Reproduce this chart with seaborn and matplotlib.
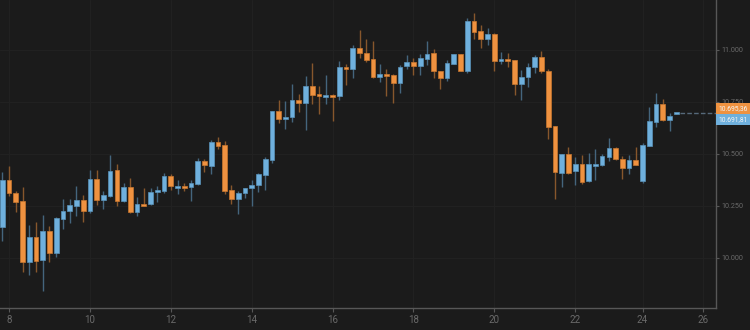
import matplotlib
matplotlib.use("Agg")
import matplotlib.pyplot as plt
import matplotlib.transforms as mtransforms
from matplotlib.ticker import FuncFormatter, FixedLocator
import numpy as np
import pandas as pd
import seaborn as sns

# 4-hour OHLC candles of the index
opens = [10148, 10375, 10311, 10273, 9979, 10100, 9989, 10130, 10024, 10189,
         10226, 10249, 10280, 10225, 10378, 10277, 10300, 10423, 10274, 10341,
         10223, 10261, 10258, 10317, 10324, 10394, 10335, 10346, 10343, 10357,
         10466, 10442, 10559, 10543, 10326, 10282, 10311, 10337, 10350, 10400,
         10473, 10707, 10667, 10676, 10758, 10745, 10827, 10788, 10776, 10784,
         10779, 10917, 10907, 11011, 10984, 10955, 10869, 10883, 10880, 10840,
         10922, 10942, 10923, 10955, 10983, 10898, 10863, 10934, 10980, 10901,
         11141, 11089, 11054, 11077, 10946, 10955, 10952, 10837, 10869, 10917,
         10965, 10901, 10633, 10410, 10499, 10418, 10451, 10369, 10444, 10449,
         10487, 10530, 10475, 10431, 10471, 10372, 10540, 10654, 10739, 10663,
         10691.81]
highs = [10412, 10444, 10324, 10341, 10159, 10172, 10207, 10152, 10196, 10282,
         10284, 10346, 10301, 10422, 10422, 10324, 10495, 10452, 10362, 10383,
         10292, 10337, 10337, 10346, 10407, 10404, 10375, 10359, 10375, 10479,
         10476, 10565, 10583, 10563, 10350, 10322, 10337, 10374, 10410, 10484,
         10708, 10760, 10753, 10835, 10787, 10876, 10936, 10826, 10880, 10790,
         10949, 10933, 11024, 11096, 11051, 11045, 10933, 10907, 10885, 10928,
         10975, 10960, 10981, 11043, 11003, 10900, 10951, 10982, 10982, 11152,
         11178, 11120, 11106, 11080, 10989, 10986, 10954, 10904, 10938, 10976,
         10995, 10910, 10635, 10500, 10532, 10484, 10495, 10503, 10523, 10500,
         10576, 10534, 10490, 10494, 10535, 10554, 10727, 10795, 10763, 10696,
         10696]
lows = [10083, 10300, 10223, 9931, 9920, 9931, 9843, 9979, 10003, 10139,
        10168, 10203, 10175, 10218, 10255, 10236, 10295, 10250, 10268, 10215,
        10202, 10250, 10253, 10269, 10311, 10326, 10309, 10322, 10275, 10351,
        10412, 10405, 10526, 10308, 10260, 10212, 10290, 10250, 10317, 10327,
        10458, 10649, 10622, 10652, 10703, 10614, 10740, 10691, 10742, 10660,
        10760, 10832, 10864, 10960, 10941, 10866, 10848, 10779, 10744, 10792,
        10910, 10881, 10880, 10928, 10867, 10811, 10850, 10932, 10898, 10891,
        11051, 11010, 11026, 10901, 10933, 10920, 10785, 10760, 10822, 10891,
        10888, 10571, 10285, 10343, 10404, 10350, 10357, 10366, 10375, 10442,
        10468, 10471, 10380, 10405, 10445, 10362, 10538, 10628, 10657, 10612,
        10690]
closes = [10375, 10311, 10268, 9979, 10100, 9987, 10130, 10024, 10191, 10227,
          10253, 10280, 10226, 10378, 10277, 10301, 10420, 10275, 10341, 10223,
          10261, 10251, 10319, 10327, 10394, 10348, 10345, 10335, 10362, 10468,
          10447, 10559, 10540, 10324, 10282, 10311, 10335, 10352, 10404, 10476,
          10705, 10670, 10676, 10761, 10745, 10827, 10784, 10777, 10784, 10774,
          10917, 10907, 11011, 10984, 10952, 10869, 10883, 10875, 10840, 10920,
          10942, 10923, 10959, 10982, 10898, 10864, 10936, 10980, 10900, 11141,
          11087, 11054, 11077, 10946, 10955, 10946, 10837, 10872, 10917, 10965,
          10898, 10631, 10413, 10499, 10410, 10451, 10367, 10451, 10453, 10489,
          10530, 10475, 10431, 10471, 10447, 10542, 10657, 10739, 10663, 10684,
          10695.36]

# day-of-month labels and the candle slot each one sits under
day_labels = ["8", "10", "12", "14", "16", "18", "20", "22", "24", "26"]
day_slots = [1, 13, 25, 37, 49, 61, 73, 85, 95, 104]

price_ticks = [10000, 10250, 10500, 10750, 11000]
ask_price = 10695.36
bid_price = 10691.81

BG = "#1b1b1b"
UP = "#6fb0dd"
DOWN = "#ef9240"
UP_WICK = "#44657d"
DOWN_WICK = "#87572c"
AXIS = "#575757"
GRID = "#212121"
TEXT = "#6a6a6a"

sns.set_theme(style="dark", rc={
    "axes.facecolor": BG,
    "figure.facecolor": BG,
    "axes.edgecolor": AXIS,
    "grid.color": GRID,
})
plt.rcParams["font.family"] = ["Liberation Sans Narrow", "Roboto", "DejaVu Sans"]

df = pd.DataFrame({"open": opens, "high": highs, "low": lows, "close": closes})
df["slot"] = np.arange(len(df))
df["up"] = df["close"] >= df["open"]

fig = plt.figure(figsize=(7.5, 3.3), dpi=100)
ax = fig.add_axes([0.0, 22.3 / 330, 715.7 / 750, 307.7 / 330])
ax.set_facecolor(BG)

# wicks
wick_colors = np.where(df["up"], UP_WICK, DOWN_WICK)
ax.vlines(df["slot"], df["low"], df["high"], colors=wick_colors,
          linewidth=1.0, zorder=2)

# bodies (a doji still gets a thin visible body)
body_low = np.minimum(df["open"], df["close"])
body_h = np.maximum((df["close"] - df["open"]).abs(), 9)
body_colors = np.where(df["up"], UP, DOWN)
edge_colors = np.where(df["up"], "#5a93ba", "#c9782f")
ax.bar(df["slot"], body_h, bottom=body_low, width=0.7, color=body_colors,
       edgecolor=edge_colors, linewidth=0.5, zorder=3)

# last-price guide running to the price scale
last = len(df) - 1
ax.hlines(closes[-1], last + 0.55, 106, colors="#56697a", linewidth=1.0,
          linestyles=(0, (3.3, 1.6)), zorder=2)

ax.set_xlim(-0.34, 105.85)
ax.set_ylim(9761, 11240)

ax.xaxis.set_major_locator(FixedLocator(day_slots))
ax.set_xticklabels(day_labels)
ax.yaxis.set_major_locator(FixedLocator(price_ticks))
ax.yaxis.set_major_formatter(
    FuncFormatter(lambda v, _: f"{v:,.0f}".replace(",", ".")))
ax.yaxis.tick_right()

ax.grid(True, color=GRID, linewidth=0.8)
ax.tick_params(axis="x", colors=AXIS, labelcolor=TEXT, labelsize=7,
               length=3, width=0.8, pad=2, bottom=True)
ax.tick_params(axis="y", colors=AXIS, labelcolor=TEXT, labelsize=5.2,
               length=2, width=0.8, pad=2, right=True, left=False)

for side in ("left", "top"):
    ax.spines[side].set_visible(False)
for side in ("right", "bottom"):
    ax.spines[side].set_color(AXIS)
    ax.spines[side].set_linewidth(1.0)

# price badges on the scale
trans = mtransforms.blended_transform_factory(ax.transAxes, ax.transData)
for price, color, dy in ((ask_price, DOWN, 3.4), (bid_price, UP, -3.9)):
    label = f"{price:,.2f}".replace(",", " ").replace(".", ",").replace(" ", ".")
    ax.annotate(label, xy=(1.0, price), xycoords=trans,
                xytext=(1.8, dy), textcoords="offset points",
                ha="left", va="center", fontsize=4.9, color="#f4f4f4",
                family=["Roboto", "DejaVu Sans"],
                bbox=dict(boxstyle="square,pad=0.36", fc=color, ec="none"),
                annotation_clip=False, zorder=10)

fig.savefig("out.png", dpi=100, facecolor=BG)
